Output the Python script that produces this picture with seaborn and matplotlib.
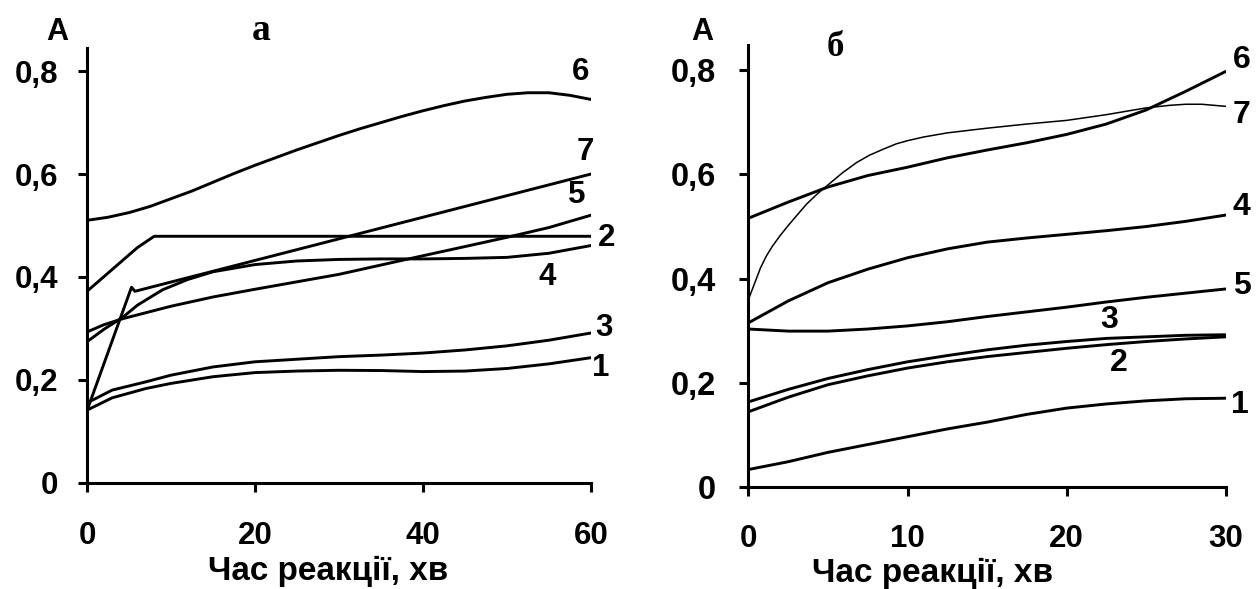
import matplotlib
matplotlib.use("Agg")
import matplotlib.pyplot as plt
from matplotlib import font_manager as fm
import seaborn as sns

# ---------------- data: panel "а" (0-60 min) ----------------
a_x1 = [0, 3, 7, 10, 15, 20, 25, 30, 35, 40, 45, 50, 55, 60]
a_y1 = [0.141, 0.165, 0.183, 0.193, 0.206, 0.214, 0.217, 0.2185, 0.218, 0.216, 0.217, 0.222, 0.231, 0.243]
a_x3 = [0, 3, 7, 10, 15, 20, 25, 30, 35, 40, 45, 50, 55, 60]
a_y3 = [0.155, 0.18, 0.196, 0.209, 0.225, 0.235, 0.24, 0.245, 0.248, 0.252, 0.258, 0.266, 0.277, 0.291]
a_x2 = [0, 6, 8, 60]
a_y2 = [0.372, 0.457, 0.479, 0.479]
a_x4 = [0, 2, 4.3, 6, 9, 12, 15, 20, 25, 30, 35, 40, 45, 50, 55, 60]
a_y4 = [0.274, 0.298, 0.322, 0.345, 0.375, 0.395, 0.41, 0.424, 0.431, 0.434, 0.435, 0.435, 0.436, 0.438, 0.446, 0.461]
a_x5 = [0, 2, 4.3, 10, 15, 20, 30, 38, 45, 50, 55, 60]
a_y5 = [0.293, 0.307, 0.319, 0.343, 0.361, 0.376, 0.405, 0.434, 0.459, 0.477, 0.496, 0.52]
a_x6 = [0, 2.5, 5, 7.5, 10, 12.5, 15, 17.5, 20, 22.5, 25, 27.5, 30, 32.5, 35, 37.5, 40,
        42.5, 45, 47.5, 50, 52.5, 55, 57.5, 60]
a_y6 = [0.51, 0.516, 0.525, 0.537, 0.552, 0.567, 0.584, 0.601, 0.617, 0.632, 0.647, 0.661,
        0.675, 0.688, 0.70, 0.712, 0.723, 0.733, 0.742, 0.749, 0.755, 0.758, 0.758, 0.753, 0.745]
a_x7 = [0, 5.3, 5.7, 60]
a_y7 = [0.14, 0.38, 0.372, 0.60]

# ---------------- data: panel "б" (0-30 min) ----------------
b_x = [0, 2.5, 5, 7.5, 10, 12.5, 15, 17.5, 20, 22.5, 25, 27.5, 30]
b_y1 = [0.033, 0.048, 0.066, 0.081, 0.096, 0.111, 0.124, 0.139, 0.151, 0.159, 0.165, 0.169, 0.17]
b_y2 = [0.144, 0.172, 0.196, 0.213, 0.228, 0.24, 0.25, 0.258, 0.266, 0.273, 0.279, 0.284, 0.288]
b_y3 = [0.163, 0.187, 0.208, 0.225, 0.24, 0.252, 0.263, 0.272, 0.279, 0.285, 0.288, 0.291, 0.292]
b_y4 = [0.315, 0.357, 0.392, 0.418, 0.44, 0.457, 0.47, 0.478, 0.485, 0.492, 0.50, 0.51, 0.522]
b_y5 = [0.303, 0.299, 0.299, 0.303, 0.309, 0.317, 0.327, 0.336, 0.345, 0.355, 0.364, 0.372, 0.38]
b_y6 = [0.516, 0.547, 0.576, 0.598, 0.614, 0.632, 0.647, 0.661, 0.677, 0.697, 0.724, 0.76, 0.798]
b_x7 = [0, 0.4, 0.75, 1.1, 1.5, 2.0, 2.5, 3.0, 3.65, 4.3, 5, 5.9, 6.8, 7.6, 8.5, 9.3, 10, 11,
        12.5, 15, 17.5, 20, 22.5, 25, 26.5, 27.5, 28.5, 30]
b_y7 = [0.36, 0.392, 0.42, 0.442, 0.462, 0.483, 0.502, 0.52, 0.543, 0.562, 0.58, 0.603, 0.623,
        0.637, 0.649, 0.659, 0.665, 0.672, 0.68, 0.689, 0.697, 0.704, 0.715, 0.728, 0.733,
        0.735, 0.735, 0.731]

# ---------------- ticks and labels ----------------
y_ticks = [0, 0.2, 0.4, 0.6, 0.8]
y_tick_labels = ["0", "0,2", "0,4", "0,6", "0,8"]
a_x_ticks = [0, 20, 40, 60]
b_x_ticks = [0, 10, 20, 30]
x_label = "Час реакції, хв"
y_label = "A"
a_title = "а"
b_title = "б"

a_curve_names = ["1", "2", "3", "4", "5", "6", "7"]
a_label_x = [61.2, 61.9, 61.6, 54.8, 58.3, 58.8, 59.3]
a_label_y = [0.222, 0.475, 0.30, 0.40, 0.559, 0.798, 0.643]
b_curve_names = ["1", "2", "3", "4", "5", "6", "7"]
b_label_x = [30.9, 23.3, 22.7, 31.0, 31.0, 31.0, 31.0]
b_label_y = [0.157, 0.237, 0.32, 0.538, 0.385, 0.82, 0.715]


def has_family(name):
    try:
        fm.findfont(fm.FontProperties(family=name), fallback_to_default=False)
        return True
    except Exception:
        return False


sans = "Liberation Sans" if has_family("Liberation Sans") else "DejaVu Sans"
serif = "Liberation Serif" if has_family("Liberation Serif") else "DejaVu Serif"

sns.set_style("ticks")
SANS = [sans, "DejaVu Sans"]
plt.rcParams["font.family"] = SANS
plt.rcParams["font.weight"] = "bold"
plt.rcParams["text.color"] = "black"
plt.rcParams["axes.labelcolor"] = "black"
plt.rcParams["xtick.color"] = "black"
plt.rcParams["ytick.color"] = "black"

fig = plt.figure(figsize=(12.59, 5.89), dpi=100)
ax1 = fig.add_axes([0.0691, 0.1805, 0.4003, 0.738])
ax2 = fig.add_axes([0.5945, 0.1737, 0.3790, 0.750])

LW = 2.1
for xs, ys in [(a_x1, a_y1), (a_x3, a_y3), (a_x2, a_y2), (a_x4, a_y4),
               (a_x5, a_y5), (a_x6, a_y6), (a_x7, a_y7)]:
    sns.lineplot(x=xs, y=ys, ax=ax1, color="black", linewidth=LW,
                 estimator=None, sort=False)

for ys in [b_y1, b_y2, b_y3, b_y4, b_y5, b_y6]:
    sns.lineplot(x=b_x, y=ys, ax=ax2, color="black", linewidth=LW,
                 estimator=None, sort=False)
sns.lineplot(x=b_x7, y=b_y7, ax=ax2, color="black", linewidth=1.1,
             estimator=None, sort=False)


def style(ax, xlim, ylim, xticks, ypad, xpad, ysize, xsize):
    ax.set_xlim(*xlim)
    ax.set_ylim(*ylim)
    for s in ["top", "right"]:
        ax.spines[s].set_visible(False)
    for s in ["left", "bottom"]:
        ax.spines[s].set_linewidth(2.2)
        ax.spines[s].set_color("black")
    ax.set_xticks(xticks)
    ax.set_xticklabels([str(t) for t in xticks])
    ax.set_yticks(y_ticks)
    ax.set_yticklabels(y_tick_labels)
    ax.tick_params(axis="y", direction="out", length=6.5, width=2.2, pad=ypad,
                   labelsize=ysize, colors="black")
    ax.tick_params(axis="x", direction="out", length=6.5, width=2.2, pad=xpad,
                   labelsize=xsize, colors="black")
    for lbl in ax.get_xticklabels() + ax.get_yticklabels():
        lbl.set_fontweight("bold")
    ax.set_xlabel("")
    ax.set_ylabel("")
    ax.grid(False)


style(ax1, (0, 60), (0, 0.845), a_x_ticks, 14.0, 21.0, 22.5, 22.5)
style(ax2, (0, 30), (0, 0.849), b_x_ticks, 17.0, 20.5, 23.5, 22.5)

for n, lx, ly in zip(a_curve_names, a_label_x, a_label_y):
    ax1.text(lx, ly, n, ha="center", va="center", fontsize=22.5,
             fontweight="bold", clip_on=False)
for n, lx, ly in zip(b_curve_names, b_label_x, b_label_y):
    ax2.text(lx, ly, n, ha="center", va="center", fontsize=23,
             fontweight="bold", clip_on=False)

# axis labels and panel letters
xl1 = fig.text(328 / 1259, 1 - 571 / 589, x_label, ha="center", va="center",
               fontsize=21, fontweight="bold", family=SANS)
xl2 = fig.text(933 / 1259, 1 - 573 / 589, x_label, ha="center", va="center",
               fontsize=23, fontweight="bold", family=SANS)
fig.text(57 / 1259, 1 - 32 / 589, y_label, ha="center", va="center",
         fontsize=22, fontweight="bold", family=SANS)
fig.text(702 / 1259, 1 - 32 / 589, y_label, ha="center", va="center",
         fontsize=22, fontweight="bold", family=SANS)
fig.text(261 / 1259, 1 - 31 / 589, a_title, ha="center", va="center",
         fontsize=27, fontweight="bold", family=[serif, "DejaVu Serif"])
fig.text(835 / 1259, 1 - 48 / 589, b_title, ha="center", va="center",
         fontsize=25, fontweight="bold", family=[serif, "DejaVu Serif"])

# fit the axis-title widths to the reference widths (pixels), within limits
fig.canvas.draw()
renderer = fig.canvas.get_renderer()
for t, target, hi in [(xl1, 240.0, 24.0), (xl2, 270.0, 24.0)]:
    w = t.get_window_extent(renderer).width
    if w > 0:
        new = t.get_fontsize() * target / w
        t.set_fontsize(max(18.0, min(new, hi)))

fig.savefig("out.png", dpi=100, facecolor="white")
